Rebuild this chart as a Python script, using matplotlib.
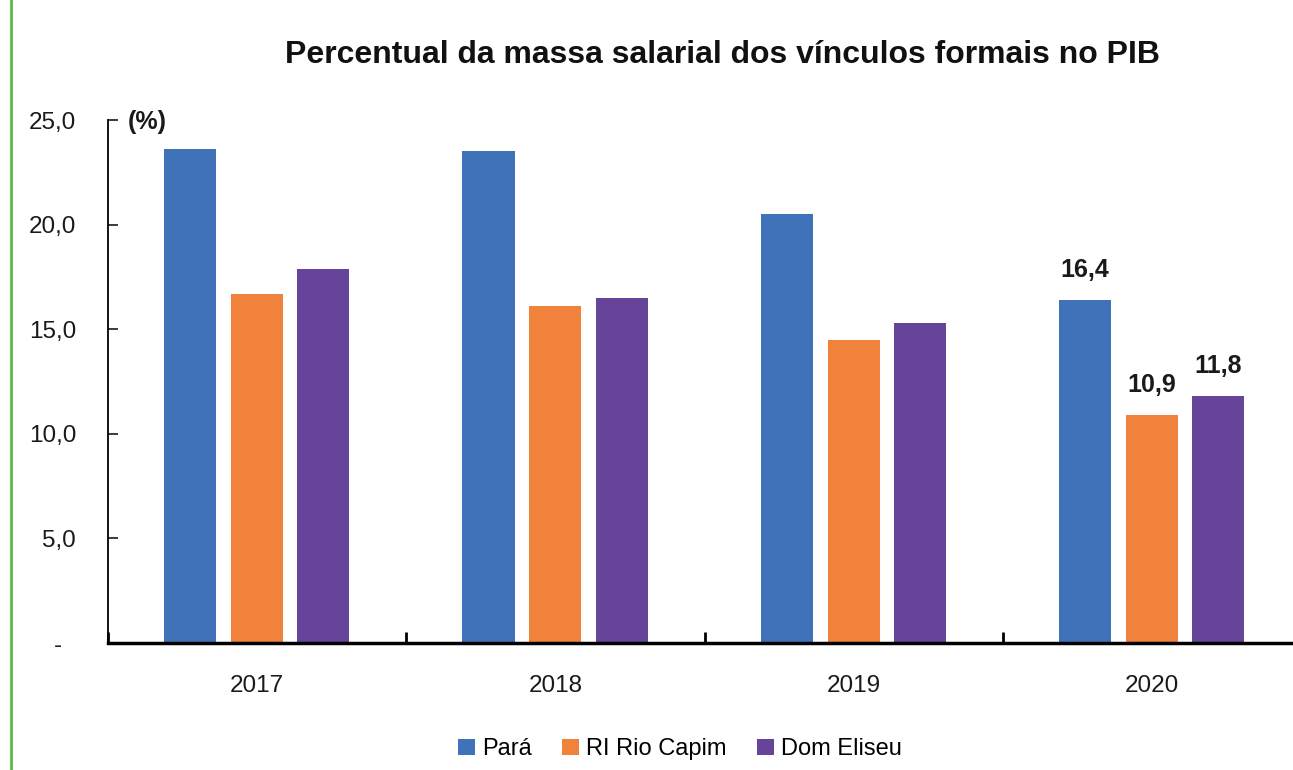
import matplotlib
matplotlib.use("Agg")
import matplotlib.pyplot as plt
import numpy as np
from matplotlib.lines import Line2D

years = ["2017", "2018", "2019", "2020"]
series = ["Pará", "RI Rio Capim", "Dom Eliseu"]
para = [23.6, 23.5, 20.5, 16.4]
rio_capim = [16.7, 16.1, 14.5, 10.9]
dom_eliseu = [17.9, 16.5, 15.3, 11.8]
y_ticks = [0, 5, 10, 15, 20, 25]
y_tick_labels = ["-  ", "5,0", "10,0", "15,0", "20,0", "25,0"]

colours = ["#3F72B8", "#F0823C", "#65449A"]

plt.rcParams["font.family"] = ["Liberation Sans", "DejaVu Sans"]

fig = plt.figure(figsize=(12.93, 7.70), dpi=100)
ax = fig.add_axes([108 / 1293, 127 / 770, 1185 / 1293, 523 / 770])

x = np.arange(len(years))
offsets = [-0.224, 0.0, 0.222]
width = 0.175
for (idx, vals) in enumerate([para, rio_capim, dom_eliseu]):
    ax.bar(x + offsets[idx], vals, width, color=colours[idx], label=series[idx])

# labels only on last year
for (idx, vals) in enumerate([para, rio_capim, dom_eliseu]):
    v = vals[-1]
    ax.annotate(("%.1f" % v).replace(".", ","), (x[-1] + offsets[idx], v),
                xytext=(0, 13), textcoords="offset points", ha="center", va="bottom",
                fontsize=18, fontweight="bold", color="#1a1a1a")

ax.set_xlim(-0.5, 3.473)
ax.set_ylim(0, 25)
ax.set_yticks(y_ticks)
ax.set_yticklabels(y_tick_labels)
ax.set_xticks(x)
ax.set_xticklabels(years)
ax.set_xticks(np.arange(len(years)) - 0.5, minor=True)

ax.tick_params(axis="y", direction="in", length=7, width=1.2, pad=23, labelsize=17.5, colors="#1a1a1a")
ax.tick_params(axis="x", which="major", length=0, pad=23, labelsize=17.5, labelcolor="#1a1a1a")
ax.tick_params(axis="x", which="minor", direction="in", length=8, width=2)

for s in ["top", "right"]:
    ax.spines[s].set_visible(False)
ax.spines["left"].set_linewidth(1.3)
ax.spines["bottom"].set_linewidth(2.5)

fig.text(0.559, 0.929, "Percentual da massa salarial dos vínculos formais no PIB",
         ha="center", va="center", fontsize=23, fontweight="bold", color="#111111")
fig.text(128 / 1293, (770 - 122) / 770, "(%)", ha="left", va="center",
         fontsize=18, fontweight="bold", color="#1a1a1a")

fig.legend(loc="center", bbox_to_anchor=(0.526, 0.027), ncol=3, frameon=False,
           fontsize=17, handlelength=0.7, handleheight=0.7, handletextpad=0.3, columnspacing=1.3)

fig.add_artist(Line2D([11 / 1293, 11 / 1293], [0, 1], color="#5DB94A", linewidth=2))

fig.savefig("out.png", dpi=100)
